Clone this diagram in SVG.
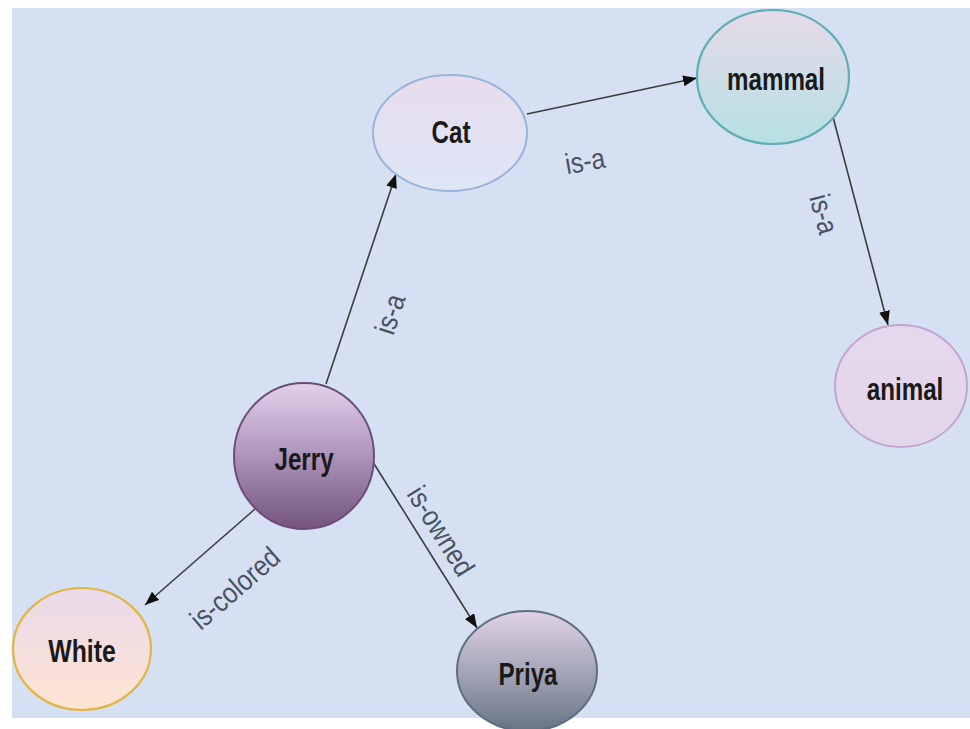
<svg xmlns="http://www.w3.org/2000/svg" width="970" height="729" viewBox="0 0 970 729">
<defs>
<style>
.node text{font-family:"Liberation Sans",Arial,sans-serif;font-weight:bold;font-size:31px;fill:#1a1a1a;text-anchor:middle}
.edge{stroke:#3c3c3c;stroke-width:1.6;fill:none;marker-end:url(#arr)}
.lbl{font-family:"Liberation Sans",Arial,sans-serif;font-size:29px;fill:#4a5262;text-anchor:middle}
</style>
<marker id="arr" markerUnits="userSpaceOnUse" markerWidth="16" markerHeight="12" refX="14" refY="5.5" orient="auto">
<path d="M0,0 L14,5.5 L0,11 z" fill="#111"/>
</marker>
<linearGradient id="gCat" x1="0" y1="0" x2="0" y2="1"><stop offset="0" stop-color="#e8dcee"/><stop offset="1" stop-color="#dde6f6"/></linearGradient>
<linearGradient id="gMam" x1="0" y1="0" x2="0" y2="1"><stop offset="0" stop-color="#e6dae9"/><stop offset="1" stop-color="#b6e0e3"/></linearGradient>
<linearGradient id="gAni" x1="0" y1="0" x2="0" y2="1"><stop offset="0" stop-color="#e6d8ec"/><stop offset="1" stop-color="#e2d6ea"/></linearGradient>
<linearGradient id="gJer" x1="0" y1="0" x2="0" y2="1"><stop offset="0" stop-color="#e2d2ea"/><stop offset="0.5" stop-color="#ad93bb"/><stop offset="1" stop-color="#72547d"/></linearGradient>
<linearGradient id="gWhi" x1="0" y1="0" x2="0" y2="1"><stop offset="0" stop-color="#ead9ea"/><stop offset="1" stop-color="#fde4d2"/></linearGradient>
<linearGradient id="gPri" x1="0" y1="0" x2="0" y2="1"><stop offset="0" stop-color="#e0d2e6"/><stop offset="0.5" stop-color="#a5a6b8"/><stop offset="1" stop-color="#667486"/></linearGradient>
</defs>
<rect x="0" y="0" width="970" height="729" fill="#ffffff"/>
<rect x="12" y="8" width="958" height="710" fill="#d5e1f3"/>
<g id="connectors">
<line class="edge" x1="527" y1="114" x2="697" y2="78"/>
<line class="edge" x1="833" y1="117" x2="888" y2="325"/>
<line class="edge" x1="326" y1="384" x2="396" y2="174"/>
<line class="edge" x1="255" y1="509" x2="145" y2="605"/>
<line class="edge" x1="371" y1="459" x2="477" y2="628"/>
<text class="lbl" transform="translate(585,161) rotate(-10) scale(0.86,1)" y="10">is-a</text>
<text class="lbl" transform="translate(824,214) rotate(75) scale(0.86,1)" y="10">is-a</text>
<text class="lbl" transform="translate(390,314) rotate(-72) scale(0.86,1)" y="10">is-a</text>
<text class="lbl" transform="translate(441,531) rotate(58) scale(0.86,1)" y="10">is-owned</text>
<text class="lbl" transform="translate(235,588) rotate(-41) scale(0.86,1)" y="10">is-colored</text>
</g>
<g id="cat" class="node">
<ellipse cx="450" cy="133" rx="77" ry="58" fill="url(#gCat)" stroke="#9ab3da" stroke-width="2"/>
<text transform="translate(451,143) scale(0.78,1)">Cat</text>
</g>
<g id="mammal" class="node">
<ellipse cx="773" cy="77" rx="76" ry="67" fill="url(#gMam)" stroke="#5eaeb2" stroke-width="2.2"/>
<text transform="translate(776,90) scale(0.78,1)">mammal</text>
</g>
<g id="animal" class="node">
<ellipse cx="901" cy="386" rx="66" ry="61" fill="url(#gAni)" stroke="#c2a4cf" stroke-width="2"/>
<text transform="translate(905,400) scale(0.78,1)">animal</text>
</g>
<g id="jerry" class="node">
<ellipse cx="304" cy="456" rx="70" ry="73" fill="url(#gJer)" stroke="#6b4d78" stroke-width="2"/>
<text transform="translate(304,470) scale(0.78,1)">Jerry</text>
</g>
<g id="white" class="node">
<ellipse cx="82" cy="649" rx="69" ry="61" fill="url(#gWhi)" stroke="#e2b442" stroke-width="2.2"/>
<text transform="translate(82,662) scale(0.8,1)">White</text>
</g>
<g id="priya" class="node">
<ellipse cx="527" cy="671" rx="70" ry="60" fill="url(#gPri)" stroke="#5f6e7e" stroke-width="2"/>
<text transform="translate(528,685) scale(0.78,1)">Priya</text>
</g>
</svg>
